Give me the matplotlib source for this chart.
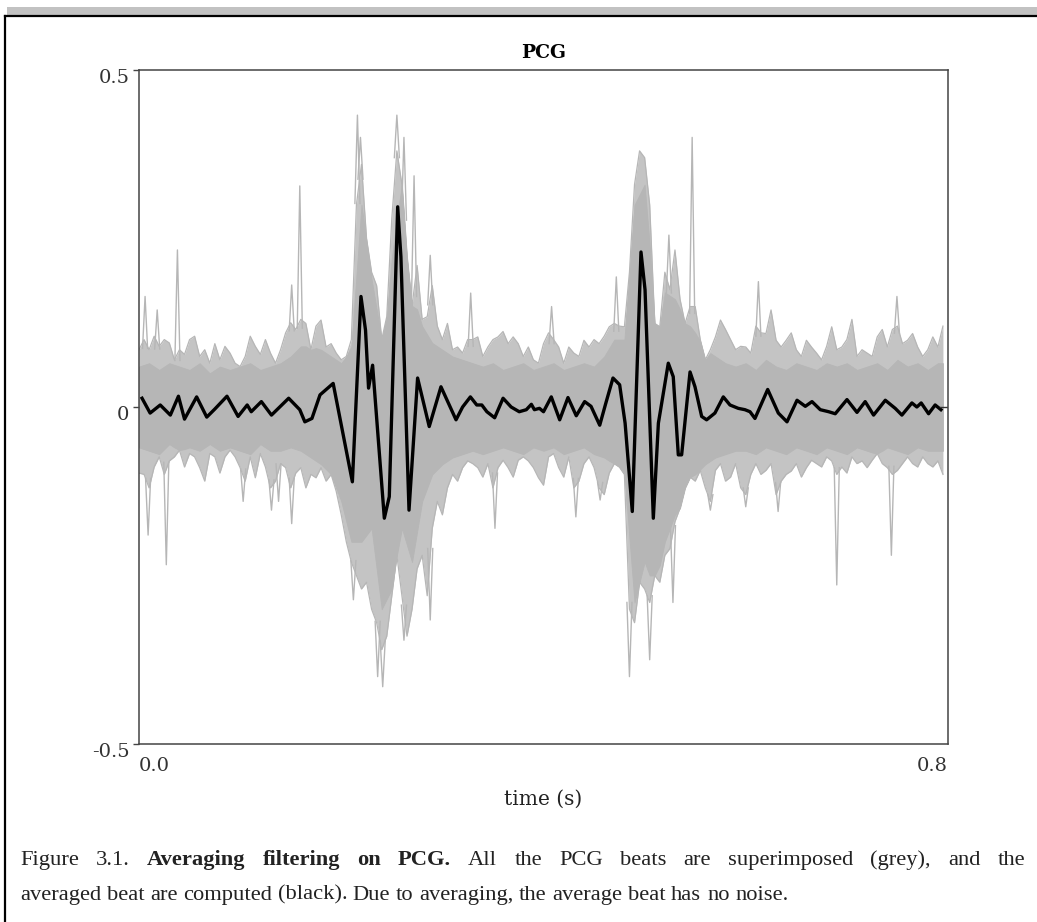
import matplotlib
matplotlib.use("Agg")
import matplotlib.pyplot as plt
import numpy as np
from matplotlib.lines import Line2D
from matplotlib.patches import Rectangle
from matplotlib.transforms import ScaledTranslation

# averaged beat (black)
avg_t = [0.003, 0.011, 0.021, 0.031, 0.039, 0.045, 0.057, 0.067, 0.075, 0.087,
         0.098, 0.107, 0.111, 0.121, 0.131, 0.148, 0.159, 0.164, 0.171, 0.179,
         0.192, 0.211, 0.2195, 0.224, 0.227, 0.231, 0.2426, 0.2475, 0.2558, 0.259,
         0.267, 0.2755, 0.287, 0.2986, 0.3135, 0.320, 0.3277, 0.334, 0.339, 0.344,
         0.3517, 0.360, 0.368, 0.376, 0.383, 0.388, 0.391, 0.396, 0.400, 0.4077,
         0.416, 0.4242, 0.4324, 0.4407, 0.447, 0.4556, 0.4615, 0.4687, 0.4753, 0.4807,
         0.4878, 0.4964, 0.5004, 0.5086, 0.5136, 0.5168, 0.5234, 0.5283, 0.5333, 0.5366,
         0.5449, 0.5498, 0.5564, 0.5613, 0.5695, 0.5778, 0.5844, 0.5926, 0.5992, 0.6042,
         0.6091, 0.6217, 0.6322, 0.6408, 0.6507, 0.6589, 0.6655, 0.6737, 0.6820, 0.6885,
         0.7001, 0.710, 0.7181, 0.7264, 0.738, 0.7478, 0.7544, 0.7643, 0.7692, 0.7735,
         0.7808, 0.7873, 0.793]
avg_v = [0.013, -0.009, 0.003, -0.012, 0.016, -0.018, 0.015, -0.015, -0.003, 0.016,
         -0.014, 0.003, -0.007, 0.008, -0.012, 0.013, -0.004, -0.022, -0.017, 0.018,
         0.035, -0.111, 0.164, 0.114, 0.028, 0.062, -0.165, -0.133, 0.297, 0.223,
         -0.153, 0.043, -0.029, 0.030, -0.019, 0.0, 0.015, 0.003, 0.003, -0.007,
         -0.016, 0.013, 0.0, -0.007, -0.004, 0.004, -0.004, -0.002, -0.007, 0.015,
         -0.019, 0.014, -0.013, 0.008, 0.001, -0.027, 0.005, 0.043, 0.033, -0.024,
         -0.155, 0.230, 0.174, -0.165, -0.024, 0.005, 0.065, 0.045, -0.071, -0.071,
         0.052, 0.030, -0.014, -0.019, -0.009, 0.015, 0.003, -0.002, -0.004, -0.007,
         -0.017, 0.026, -0.009, -0.022, 0.010, 0.001, 0.008, -0.004, -0.007, -0.010,
         0.011, -0.008, 0.008, -0.012, 0.010, -0.002, -0.012, 0.006, 0.0, 0.006,
         -0.010, 0.003, -0.004]

# outline of the superimposed beats (grey), sampled every 5 ms from 0 to 0.795 s
env_hi = [0.085, 0.10, 0.085, 0.105, 0.09, 0.10, 0.095, 0.07, 0.085, 0.078,
          0.10, 0.105, 0.075, 0.085, 0.065, 0.094, 0.07, 0.09, 0.08, 0.065,
          0.06, 0.075, 0.105, 0.09, 0.078, 0.10, 0.08, 0.065, 0.085, 0.11,
          0.125, 0.115, 0.13, 0.124, 0.085, 0.12, 0.129, 0.089, 0.094, 0.08,
          0.07, 0.075, 0.10, 0.30, 0.36, 0.25, 0.20, 0.18, 0.10, 0.134,
          0.28, 0.38, 0.33, 0.223, 0.15, 0.21, 0.13, 0.134, 0.18, 0.12,
          0.10, 0.124, 0.085, 0.089, 0.08, 0.10, 0.10, 0.104, 0.075, 0.089,
          0.10, 0.104, 0.112, 0.094, 0.104, 0.094, 0.075, 0.089, 0.07, 0.065,
          0.094, 0.11, 0.10, 0.089, 0.065, 0.089, 0.08, 0.075, 0.099, 0.089,
          0.10, 0.094, 0.105, 0.119, 0.124, 0.12, 0.119, 0.20, 0.33, 0.38,
          0.37, 0.30, 0.124, 0.119, 0.20, 0.174, 0.233, 0.16, 0.124, 0.149,
          0.149, 0.10, 0.07, 0.085, 0.104, 0.129, 0.115, 0.10, 0.085, 0.09,
          0.089, 0.08, 0.12, 0.11, 0.109, 0.144, 0.099, 0.089, 0.099, 0.11,
          0.085, 0.075, 0.099, 0.089, 0.08, 0.07, 0.09, 0.119, 0.085, 0.089,
          0.10, 0.13, 0.075, 0.085, 0.08, 0.075, 0.104, 0.115, 0.089, 0.115,
          0.12, 0.094, 0.099, 0.109, 0.089, 0.075, 0.085, 0.104, 0.089, 0.12]
env_lo = [-0.098, -0.10, -0.12, -0.089, -0.074, -0.10, -0.08, -0.074, -0.064, -0.089,
          -0.069, -0.074, -0.09, -0.11, -0.069, -0.074, -0.098, -0.074, -0.064, -0.074,
          -0.09, -0.11, -0.074, -0.105, -0.069, -0.089, -0.12, -0.11, -0.084, -0.09,
          -0.12, -0.098, -0.09, -0.12, -0.10, -0.105, -0.09, -0.11, -0.10, -0.125,
          -0.16, -0.20, -0.23, -0.25, -0.27, -0.26, -0.30, -0.32, -0.36, -0.34,
          -0.28, -0.22, -0.28, -0.34, -0.30, -0.24, -0.22, -0.28, -0.18, -0.14,
          -0.16, -0.12, -0.10, -0.11, -0.09, -0.08, -0.084, -0.09, -0.104, -0.084,
          -0.12, -0.09, -0.079, -0.09, -0.104, -0.079, -0.074, -0.08, -0.09, -0.105,
          -0.116, -0.074, -0.069, -0.09, -0.104, -0.074, -0.12, -0.11, -0.084, -0.074,
          -0.09, -0.12, -0.13, -0.098, -0.084, -0.089, -0.10, -0.30, -0.32, -0.26,
          -0.27, -0.29, -0.25, -0.26, -0.22, -0.21, -0.17, -0.15, -0.12, -0.104,
          -0.11, -0.094, -0.12, -0.14, -0.094, -0.084, -0.11, -0.104, -0.084, -0.12,
          -0.13, -0.10, -0.084, -0.10, -0.094, -0.084, -0.13, -0.11, -0.10, -0.095,
          -0.084, -0.104, -0.09, -0.079, -0.084, -0.089, -0.074, -0.08, -0.10, -0.089,
          -0.098, -0.074, -0.084, -0.08, -0.09, -0.079, -0.069, -0.084, -0.09, -0.10,
          -0.094, -0.084, -0.074, -0.084, -0.089, -0.074, -0.084, -0.089, -0.08, -0.10]

# where the beats overlap densely, every 10 ms from 0 to 0.79 s
core_hi = [0.06, 0.065, 0.055, 0.065, 0.06, 0.055, 0.065, 0.05, 0.06, 0.055,
           0.06, 0.065, 0.055, 0.06, 0.065, 0.075, 0.09, 0.09, 0.085, 0.075,
           0.065, 0.09, 0.30, 0.19, 0.10, 0.22, 0.34, 0.17, 0.12, 0.095,
           0.085, 0.075, 0.07, 0.065, 0.06, 0.065, 0.055, 0.06, 0.065, 0.055,
           0.06, 0.065, 0.055, 0.06, 0.065, 0.06, 0.075, 0.10, 0.10, 0.30,
           0.33, 0.15, 0.17, 0.16, 0.13, 0.11, 0.085, 0.075, 0.065, 0.06,
           0.065, 0.055, 0.07, 0.06, 0.055, 0.065, 0.06, 0.055, 0.065, 0.06,
           0.065, 0.055, 0.06, 0.065, 0.055, 0.07, 0.06, 0.065, 0.055, 0.065]
core_lo = [-0.06, -0.065, -0.07, -0.055, -0.065, -0.06, -0.065, -0.055, -0.065, -0.06,
           -0.065, -0.07, -0.055, -0.065, -0.065, -0.06, -0.065, -0.075, -0.085, -0.10,
           -0.14, -0.20, -0.20, -0.18, -0.30, -0.27, -0.18, -0.23, -0.14, -0.10,
           -0.085, -0.075, -0.07, -0.065, -0.07, -0.065, -0.06, -0.065, -0.07, -0.06,
           -0.065, -0.06, -0.07, -0.065, -0.06, -0.07, -0.075, -0.085, -0.10, -0.29,
           -0.23, -0.27, -0.20, -0.16, -0.14, -0.10, -0.085, -0.075, -0.07, -0.065,
           -0.065, -0.07, -0.06, -0.065, -0.07, -0.06, -0.065, -0.07, -0.06, -0.065,
           -0.07, -0.06, -0.065, -0.07, -0.06, -0.065, -0.07, -0.06, -0.065, -0.065]

# single beats reaching well outside the grey outline
spike_up_t = [0.006, 0.018, 0.038, 0.151, 0.159, 0.216, 0.219, 0.255, 0.262, 0.272,
              0.288, 0.328, 0.408, 0.472, 0.524, 0.547, 0.6125, 0.7495]
spike_up_v = [0.164, 0.144, 0.233, 0.181, 0.328, 0.433, 0.40, 0.433, 0.40, 0.343,
              0.225, 0.169, 0.149, 0.193, 0.255, 0.40, 0.186, 0.164]
spike_dn_t = [0.009, 0.027, 0.103, 0.131, 0.138, 0.151, 0.212, 0.236, 0.241, 0.262,
              0.288, 0.352, 0.432, 0.456, 0.485, 0.505, 0.528, 0.565, 0.600, 0.632,
              0.690, 0.744]
spike_dn_v = [-0.19, -0.234, -0.14, -0.153, -0.14, -0.173, -0.286, -0.40, -0.415, -0.346,
              -0.316, -0.18, -0.163, -0.138, -0.40, -0.375, -0.29, -0.153, -0.148, -0.155,
              -0.264, -0.22]

caption_1 = [("Figure 3.1.", "normal"), ("Averaging filtering on PCG.", "bold"),
             ("All the PCG beats are superimposed (grey), and the", "normal")]
caption_2 = [("averaged beat are computed (black). Due to averaging, the average beat "
              "has no noise.", "normal")]

GREY = "#b6b6b6"
LIGHT = "#c4c4c4"
W, H = 1037, 922

plt.rcParams["font.family"] = ["DejaVu Serif"]
fig = plt.figure(figsize=(W / 100, H / 100), dpi=100)

# page decoration: grey bar and black frame of the figure box
fig.patches.append(Rectangle((7 / W, 1 - 15 / H), 1 - 7 / W, 8 / H,
                             transform=fig.transFigure, color="#c2c2c2", lw=0))
fig.lines.append(Line2D([5 / W, 1], [1 - 16 / H, 1 - 16 / H], transform=fig.transFigure,
                        color="black", lw=1.6))
fig.lines.append(Line2D([5 / W, 5 / W], [0, 1 - 16 / H], transform=fig.transFigure,
                        color="black", lw=1.6))

ax = fig.add_axes([139 / W, 1 - 744 / H, 809 / W, 674 / H])

env_t = np.linspace(0, 0.795, len(env_hi))
core_t = np.linspace(0, 0.79, len(core_hi))
hi_c = np.minimum(np.interp(env_t, core_t, core_hi), env_hi)
lo_c = np.maximum(np.interp(env_t, core_t, core_lo), env_lo)

ax.fill_between(env_t, env_lo, env_hi, color=LIGHT, lw=0)
ax.fill_between(env_t, lo_c, hi_c, color=GREY, lw=0.6, edgecolor=GREY)
ax.plot(env_t, env_hi, color=GREY, lw=0.9)
ax.plot(env_t, env_lo, color=GREY, lw=0.9)
hw = 0.0025
for t, v in zip(spike_up_t, spike_up_v):
    base = np.interp(t, env_t, env_hi) - 0.01
    ax.plot([t - hw, t, t + hw], [base, v, base], color=GREY, lw=1.0)
for t, v in zip(spike_dn_t, spike_dn_v):
    base = np.interp(t, env_t, env_lo) + 0.01
    ax.plot([t - hw, t, t + hw], [base, v, base], color=GREY, lw=1.0)

ax.plot(avg_t, avg_v, color="black", lw=2.4, solid_joinstyle="round")
ax.axhline(0, xmin=0.99, xmax=1.0, color="#333333", lw=1.0)

ax.set_xlim(0, 0.8)
ax.set_ylim(-0.5, 0.5)
for s in ax.spines.values():
    s.set_color("#444444")
    s.set_linewidth(1.1)

ax.set_xticks([0.0, 0.8], ["0.0", "0.8"])
ax.set_yticks([-0.5, 0.0, 0.5], ["-0.5", "0", "0.5"])
ax.tick_params(axis="x", length=0, pad=9, labelsize=14, labelcolor="#333333")
ax.tick_params(axis="y", length=4, width=1, color="#444444", pad=3, labelsize=14,
               labelcolor="#333333")
xl = ax.get_xticklabels()
xl[0].set_ha("left")
xl[1].set_ha("right")
down = ScaledTranslation(0, -6 / 100, fig.dpi_scale_trans)
for lab in ax.get_yticklabels():
    lab.set_transform(lab.get_transform() + down)

ax.set_xlabel("time (s)", fontsize=14.5, labelpad=11, color="#222222")
ax.set_title("PCG", fontsize=13.5, fontweight="bold", pad=9)

# caption: size chosen so the short line ends where it does in the figure,
# then the first line is justified to the full text width
fig.canvas.draw()
r = fig.canvas.get_renderer()
CAP_FONT = ["Liberation Serif", "DejaVu Serif"]


def words_of(pieces):
    return [(w, wt) for txt, wt in pieces for w in txt.split()]


def natural_width(pieces, size):
    t = fig.text(0, 0, " ".join(w for w, _ in words_of(pieces)), fontsize=size,
                 family=CAP_FONT)
    wdt = t.get_window_extent(r).width
    t.remove()
    return wdt


cap_size = 14.0 * 770 / natural_width(caption_2, 14.0)


def caption_line(pieces, y_px, x0, x1=None):
    words = words_of(pieces)
    objs = [fig.text(0, 1 - y_px / H, w, fontsize=cap_size, fontweight=wt, va="center",
                     family=CAP_FONT, color="#222222") for w, wt in words]
    widths = [o.get_window_extent(r).width for o in objs]
    if x1 is None:
        gap = (natural_width(pieces, cap_size) - sum(widths)) / (len(words) - 1)
    else:
        gap = (x1 - x0 - sum(widths)) / (len(words) - 1)
    x = x0
    for o, w in zip(objs, widths):
        o.set_x(x / W)
        x += w + gap


caption_line(caption_1, 860, 20, 1025)
caption_line(caption_2, 895, 20)

fig.savefig("out.png", dpi=100)
